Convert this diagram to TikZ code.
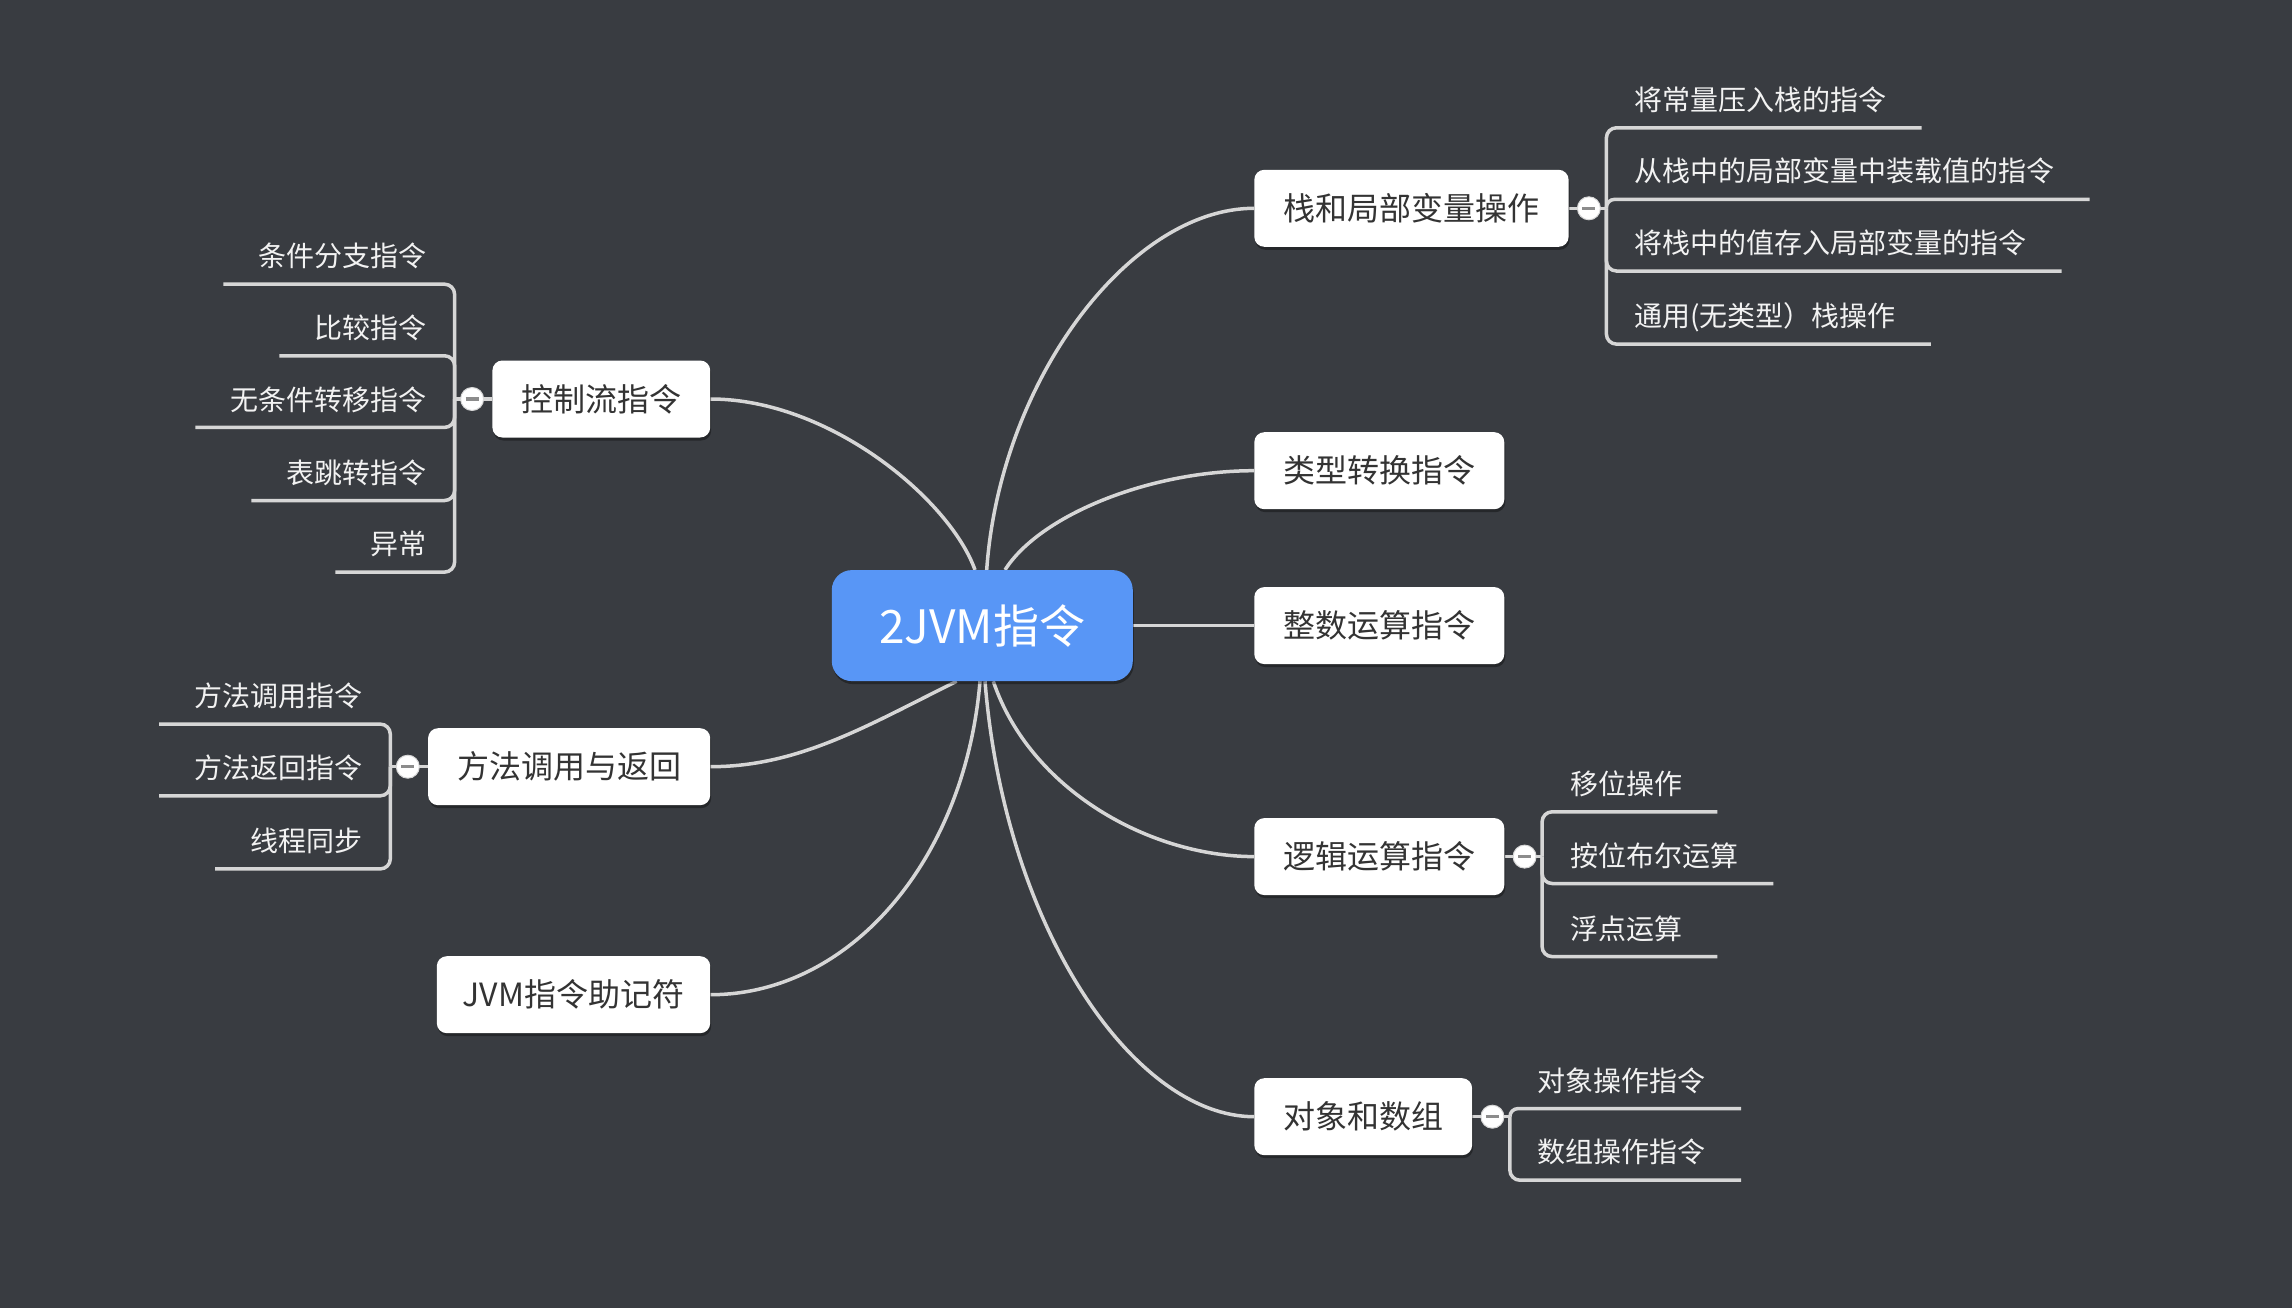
\documentclass[tikz,border=0pt]{standalone}
\usepackage{fontspec}
\setmainfont{Noto Sans CJK SC}
\usetikzlibrary{calc,shadows}
\definecolor{bgc}{RGB}{57,60,65}
\definecolor{linec}{RGB}{214,214,214}
\definecolor{rootc}{RGB}{88,150,246}
\definecolor{topict}{RGB}{51,51,51}
\definecolor{leaft}{RGB}{242,242,242}
\definecolor{minusc}{RGB}{140,140,140}
\pgfdeclarelayer{back}
\pgfdeclarelayer{lines}
\pgfsetlayers{back,lines,main}
\begin{document}
\begin{tikzpicture}[x=1pt,y=-1pt,
  conn/.style={draw=linec, line width=3.5pt},
  branch/.style={draw=linec, line width=3.5pt, rounded corners=10pt},
  boxshadow/.style={drop shadow={shadow xshift=1pt, shadow yshift=-3pt, opacity=0.35, fill=black}},
  rootbox/.style={fill=rootc, rounded corners=20pt, minimum width=301pt, minimum height=111pt, inner sep=0pt, text=white, font=\fontsize{46pt}{55pt}\selectfont, text height=40.5pt, text depth=5.5pt, boxshadow},
  topic/.style={fill=white, rounded corners=10pt, minimum height=77pt, inner sep=0pt, text=topict, font=\fontsize{32pt}{38pt}\selectfont, text height=28.2pt, text depth=3.8pt, boxshadow},
  leaf/.style={inner sep=0pt, text=leaft, font=\fontsize{28pt}{34pt}\selectfont, text height=24.6pt, text depth=3.4pt},
  fold/.style={circle, fill=white, draw=linec, line width=1pt, minimum size=23pt, inner sep=0pt,
    path picture={\draw[minusc, line width=3.5pt] ([xshift=-6.5pt]path picture bounding box.center) -- ([xshift=6.5pt]path picture bounding box.center);}}
]
\useasboundingbox (0,0) rectangle (2292,1308);
\begin{pgfonlayer}{back}
\fill[bgc] (0,0) rectangle (2292,1308);
\end{pgfonlayer}

% nodes
\node[rootbox] (root) at (982.3,625.6) {2JVM指令};
\node[topic, anchor=west, minimum width=314.3pt] (n1) at (1254.1,208.3) {栈和局部变量操作};
\node[topic, anchor=west, minimum width=250pt] (n2) at (1254.1,470.7) {类型转换指令};
\node[topic, anchor=west, minimum width=250pt] (n3) at (1254.1,625.6) {整数运算指令};
\node[topic, anchor=west, minimum width=250pt] (n4) at (1254.1,856.6) {逻辑运算指令};
\node[topic, anchor=west, minimum width=217.8pt] (n5) at (1254.1,1116.7) {对象和数组};
\node[topic, anchor=east, minimum width=217.8pt] (n6) at (710.4,399) {控制流指令};
\node[topic, anchor=east, minimum width=282.1pt] (n7) at (710.4,766.7) {方法调用与返回};
\node[topic, anchor=east, minimum width=273.4pt] (n8) at (710.4,994.7) {JVM指令助记符};

% stems
\coordinate (s1) at (1606.4,208.3);
\coordinate (s4) at (1542.1,856.6);
\coordinate (s5) at (1509.9,1116.7);
\coordinate (s6) at (454.6,399);
\coordinate (s7) at (390.3,766.7);

% leaves
\node[leaf, anchor=west] (l11) at (1634.1,99.8) {将常量压入栈的指令};
\node[leaf, anchor=west] (l12) at (1634.1,171.4) {从栈中的局部变量中装载值的指令};
\node[leaf, anchor=west] (l13) at (1634.1,243) {将栈中的值存入局部变量的指令};
\node[leaf, anchor=west] (l14) at (1634.1,316.1) {通用(无类型）栈操作};

\node[leaf, anchor=west] (l41) at (1569.9,783.8) {移位操作};
\node[leaf, anchor=west] (l42) at (1569.9,855.5) {按位布尔运算};
\node[leaf, anchor=west] (l43) at (1569.9,928.6) {浮点运算};

\node[leaf, anchor=west] (l51) at (1537.7,1080.6) {对象操作指令};
\node[leaf, anchor=west] (l52) at (1537.7,1152.2) {数组操作指令};

\node[leaf, anchor=east] (l61) at (426.8,256.2) {条件分支指令};
\node[leaf, anchor=east] (l62) at (426.8,327.8) {比较指令};
\node[leaf, anchor=east] (l63) at (426.8,399.4) {无条件转移指令};
\node[leaf, anchor=east] (l64) at (426.8,472.5) {表跳转指令};
\node[leaf, anchor=east] (l65) at (426.8,544.1) {异常};

\node[leaf, anchor=east] (l71) at (362.5,696.1) {方法调用指令};
\node[leaf, anchor=east] (l72) at (362.5,767.8) {方法返回指令};
\node[leaf, anchor=east] (l73) at (362.5,840.9) {线程同步};

\begin{pgfonlayer}{lines}
% main connectors
\draw[conn] ([xshift=4.4pt]root.north) .. controls (1000,380) and (1130,208.3) .. (n1.west);
\draw[conn] ([xshift=22.7pt]root.north) .. controls (1040,515) and (1150,470.7) .. (n2.west);
\draw[conn] (root.east) -- (n3.west);
\draw[conn] ([xshift=11pt]root.south) .. controls (1030,790) and (1150,856.6) .. (n4.west);
\draw[conn] ([xshift=2.7pt]root.south) .. controls (1005,930) and (1135,1116.7) .. (n5.west);
\draw[conn] ([xshift=-7.3pt]root.north) .. controls (950,500) and (830,399) .. (n6.east);
\draw[conn] ([xshift=-25.6pt]root.south) .. controls (870,724) and (800,766.7) .. (n7.east);
\draw[conn] ([xshift=-2.3pt]root.south) .. controls (965,860) and (850,994.7) .. (n8.east);

% branches
\draw[branch] (n1.east) -- (s1);
\draw[branch] (s1) |- ([shift={(35pt,-28pt)}]l11.east);
\draw[branch, rounded corners=8pt] (s1) |- ([shift={(35pt,-28pt)}]l12.east);
\draw[branch] (s1) |- ([shift={(35pt,-28pt)}]l13.east);
\draw[branch] (s1) |- ([shift={(35pt,-28pt)}]l14.east);

\draw[branch] (n4.east) -- (s4);
\draw[branch] (s4) |- ([shift={(35pt,-28pt)}]l41.east);
\draw[branch] (s4) |- ([shift={(35pt,-28pt)}]l42.east);
\draw[branch] (s4) |- ([shift={(35pt,-28pt)}]l43.east);

\draw[branch] (n5.east) -- (s5);
\draw[branch, rounded corners=8pt] (s5) |- ([shift={(35pt,-28pt)}]l51.east);
\draw[branch] (s5) |- ([shift={(35pt,-28pt)}]l52.east);

\draw[branch] (n6.west) -- (s6);
\draw[branch] (s6) |- ([shift={(-35pt,-28pt)}]l61.west);
\draw[branch] (s6) |- ([shift={(-35pt,-28pt)}]l62.west);
\draw[branch] (s6) |- ([shift={(-35pt,-28pt)}]l63.west);
\draw[branch] (s6) |- ([shift={(-35pt,-28pt)}]l64.west);
\draw[branch] (s6) |- ([shift={(-35pt,-28pt)}]l65.west);

\draw[branch] (n7.west) -- (s7);
\draw[branch] (s7) |- ([shift={(-35pt,-28pt)}]l71.west);
\draw[branch] (s7) |- ([shift={(-35pt,-28pt)}]l72.west);
\draw[branch] (s7) |- ([shift={(-35pt,-28pt)}]l73.west);
\end{pgfonlayer}

% fold markers
\node[fold] (f1) at (1588.9,208.3) {};
\node[fold] (f4) at (1524.6,856.6) {};
\node[fold] (f5) at (1492.4,1116.7) {};
\node[fold] (f6) at (472.1,399) {};
\node[fold] (f7) at (407.8,766.7) {};
\end{tikzpicture}
\end{document}
